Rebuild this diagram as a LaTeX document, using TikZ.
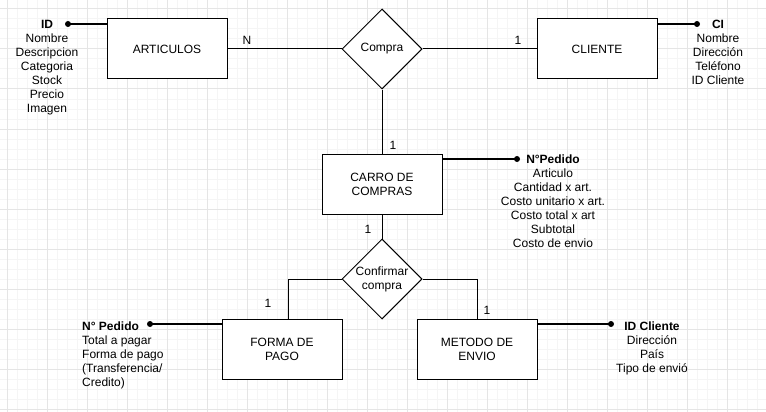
\documentclass[tikz,border=0pt]{standalone}
\usepackage{fontspec}
\setmainfont{Liberation Sans}
\usetikzlibrary{shapes.geometric}

\begin{document}
\begin{tikzpicture}[
    x=1pt, y=-1pt,
    font=\fontsize{12}{14}\selectfont,
    entity/.style={draw, line width=1pt, fill=white, align=center, minimum width=120pt, minimum height=60pt, inner sep=0pt},
    relation/.style={draw, diamond, line width=1pt, fill=white, minimum width=80pt, minimum height=80pt, inner sep=0pt},
    attrs/.style={align=center, inner sep=0pt, anchor=north},
    keydot/.style={circle, fill=black, inner sep=0pt, minimum size=6pt},
    keyline/.style={line width=2pt},
    link/.style={line width=1pt},
    card/.style={inner sep=0pt},
    minorgrid/.style={line width=1pt, gray!8},
    majorgrid/.style={line width=1pt, gray!20}
  ]
    \useasboundingbox (0,0) rectangle (766,412);
    \fill[white] (0,0) rectangle (766,412);
    \foreach \gx in {7,17,...,757} \draw[minorgrid] (\gx,0) -- (\gx,412);
    \foreach \gy in {9,19,...,409} \draw[minorgrid] (0,\gy) -- (766,\gy);
    \foreach \gx in {7,47,...,727} \draw[majorgrid] (\gx,0) -- (\gx,412);
    \foreach \gy in {9,49,...,409} \draw[majorgrid] (0,\gy) -- (766,\gy);

    \node[entity] (art) at (167,49) {ARTICULOS};
    \node[relation, label={center:Compra}] (compra) at (382,49) {};
    \node[entity] (cli) at (597,49) {CLIENTE};
    \node[entity] (carro) at (382,184) {CARRO DE\\COMPRAS};
    \node[relation, label={[align=center]center:{Confirmar\\compra}}] (conf) at (382,279) {};
    \node[entity] (forma) at (282,349) {FORMA DE\\PAGO};
    \node[entity] (metodo) at (477,349) {METODO DE\\ENVIO};

    \node[keydot] (artkey) at (68,24) {};
    \node[keydot] (clikey) at (697,24) {};
    \node[keydot] (carrokey) at (517,159) {};
    \node[keydot] (formakey) at (150,324) {};
    \node[keydot] (metodokey) at (611,324) {};

    \node[attrs] (artattr) at (47,19.6) {\textbf{ID}\\Nombre\\Descripcion\\Categoria\\Stock\\Precio\\Imagen};
    \node[attrs] (cliattr) at (718,19.6) {\textbf{CI}\\Nombre\\Dirección\\Teléfono\\ID Cliente};
    \node[attrs] (carroattr) at (553,154.6) {\textbf{N°Pedido}\\Articulo\\Cantidad x art.\\Costo unitario x art.\\Costo total x art\\Subtotal\\Costo de envio};
    \node[attrs, align=left, anchor=north west] (formaattr) at (82,321.6) {\textbf{N° Pedido}\\Total a pagar\\Forma de pago\\(Transferencia/\\Credito)};
    \node[attrs] (metodoattr) at (652,321.6) {\textbf{ID Cliente}\\Dirección\\País\\Tipo de envió};

    \node[card] (cardart) at (247,40) {N};
    \node[card] (cardcli) at (518,40) {1};
    \node[card] (cardcarroa) at (393,145) {1};
    \node[card] (cardcarrob) at (368,229) {1};
    \node[card] (cardforma) at (268,303) {1};
    \node[card] (cardmetodo) at (487,310) {1};

    \draw[link] (art) -- (compra);
    \draw[link] (compra) -- (cli);
    \draw[link] (compra) -- (carro);
    \draw[link] (carro) -- (conf);
    \draw[link] (conf.west) -| ([xshift=6pt]forma.north);
    \draw[link] (conf.east) -| (metodo.north);

    \draw[keyline] (artkey.center) -- (artkey.center -| art.west);
    \draw[keyline] (clikey.center) -- (clikey.center -| cli.east);
    \draw[keyline] (carrokey.center) -- (carrokey.center -| carro.east);
    \draw[keyline] (formakey.center) -- (formakey.center -| forma.west);
    \draw[keyline] (metodokey.center) -- (metodokey.center -| metodo.east);
  \end{tikzpicture}
\end{document}
